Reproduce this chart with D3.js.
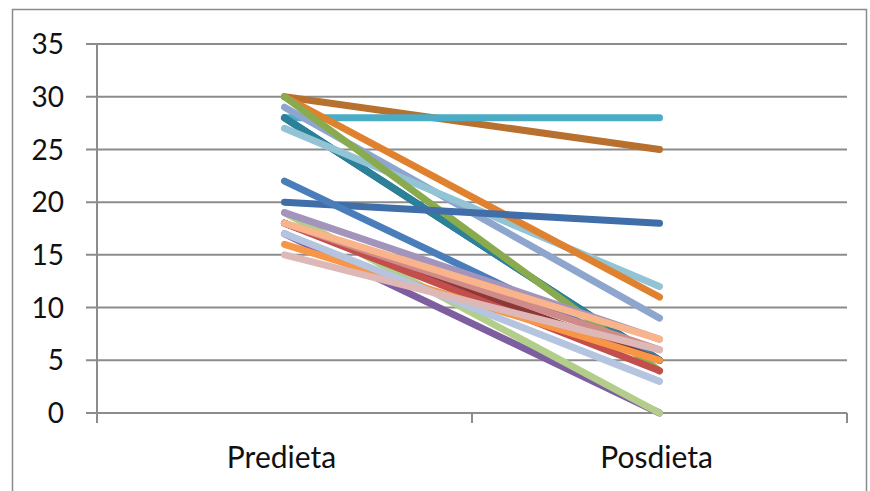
<!DOCTYPE html>
<html>
<head>
<meta charset="utf-8">
<script src="https://cdn.jsdelivr.net/npm/d3@7"></script>
<style>
html,body{margin:0;padding:0;background:#fff;}
svg{display:block;}
text{font-family:Lato,"Open Sans",sans-serif;fill:#111;}
</style>
</head>
<body>
<svg id="chart" width="870" height="491"></svg>
<script>
const categories = ["Predieta", "Posdieta"];
const yTicks = [0, 5, 10, 15, 20, 25, 30, 35];
const preValues  = [30, 28, 28, 28, 29, 27, 30, 30, 20, 22, 17, 19, 18, 18, 16, 17, 19, 18, 15, 18];
const postValues = [25,  5, 28,  5,  9, 12, 11,  4, 18,  5,  0,  0,  5,  4,  5,  3,  7,  6,  6,  7];
const seriesColors = ["#B8702F", "#30598C", "#4BACC6", "#2A8198", "#8EA6CE", "#93C4D6",
  "#E0812F", "#8AAA4E", "#3F6EA8", "#4A7EBB", "#7D5FA0", "#B3CD8A", "#8C3836", "#C24F4C",
  "#F79646", "#B5C4DF", "#A394BC", "#CF8B89", "#DDB8B7", "#F9B48B"];

const svg = d3.select("#chart");
const plot = {left: 97, right: 847, top: 44, bottom: 413};

// outer chart border
svg.append("rect").attr("x", 12.5).attr("y", 9.5).attr("width", 854).attr("height", 490)
  .attr("fill", "none").attr("stroke", "#8a8a8a").attr("stroke-width", 1.5);

const x = d3.scaleBand().domain(categories).range([plot.left, plot.right]).padding(0);
const y = d3.scaleLinear().domain([0, 35]).range([plot.bottom, plot.top]);

// gridlines
svg.append("g").selectAll("line").data(yTicks).join("line")
  .attr("x1", plot.left - 11).attr("x2", plot.right)
  .attr("y1", d => y(d)).attr("y2", d => y(d))
  .attr("stroke", "#8c8c8c").attr("stroke-width", 2);

// y axis line
svg.append("line").attr("x1", plot.left).attr("x2", plot.left)
  .attr("y1", plot.top).attr("y2", plot.bottom + 10)
  .attr("stroke", "#8c8c8c").attr("stroke-width", 2);

// y labels
svg.append("g").selectAll("text").data(yTicks).join("text")
  .attr("x", 64).attr("y", d => y(d)).attr("dy", "0.36em")
  .attr("text-anchor", "end").attr("font-size", 28).text(d => d);

// category ticks
const catEdges = [plot.left].concat(categories.map(c => x(c) + x.bandwidth()));
svg.append("g").selectAll("line").data(catEdges).join("line")
  .attr("x1", d => d).attr("x2", d => d)
  .attr("y1", plot.bottom).attr("y2", plot.bottom + 10)
  .attr("stroke", "#8c8c8c").attr("stroke-width", 2);

// category labels
svg.append("g").selectAll("text").data(categories).join("text")
  .attr("x", d => x(d) + x.bandwidth() / 2 - 3).attr("y", 468)
  .attr("text-anchor", "middle").attr("font-size", 30).text(d => d);

// series lines
const line = d3.line().x(d => x(d.c) + x.bandwidth() / 2).y(d => y(d.v));
const series = preValues.map((p, i) => ({
  color: seriesColors[i],
  pts: [{c: categories[0], v: p}, {c: categories[1], v: postValues[i]}]
}));
svg.append("g").selectAll("path").data(series).join("path")
  .attr("d", d => line(d.pts))
  .attr("fill", "none").attr("stroke", d => d.color)
  .attr("stroke-width", 7).attr("stroke-linecap", "round");
</script>
</body>
</html>
